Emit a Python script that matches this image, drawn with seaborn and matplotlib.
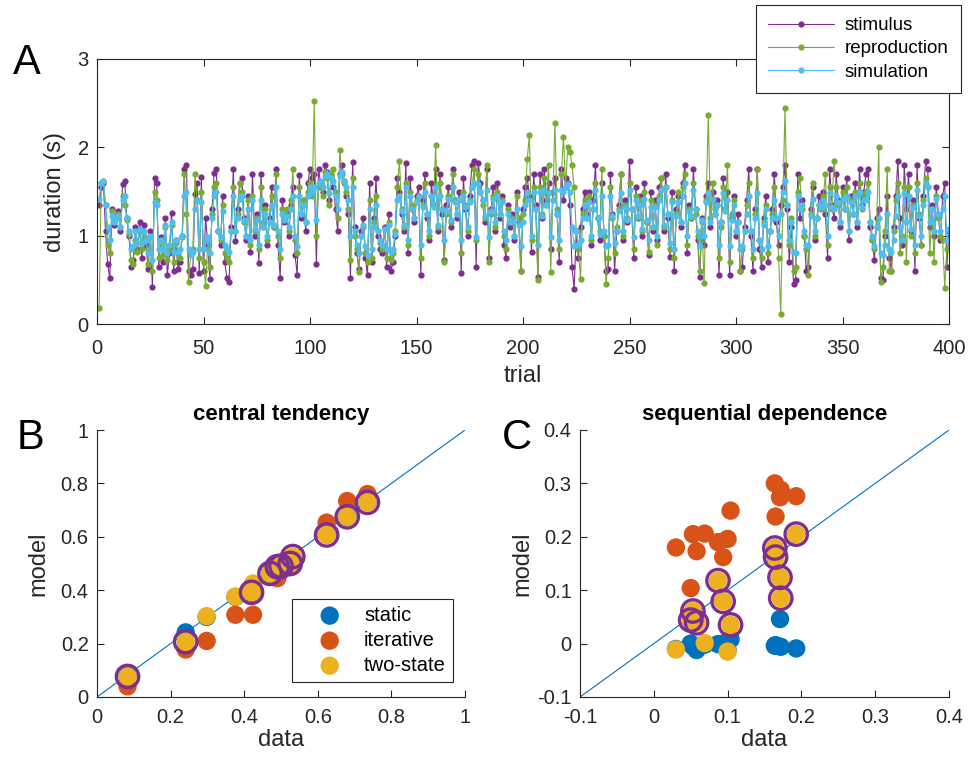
import numpy as np
import pandas as pd
import matplotlib
matplotlib.use("Agg")
import matplotlib.pyplot as plt
import seaborn as sns

# ---------------- Panel A data (duration per trial, seconds) ----------------
stimulus = [
    1.35, 1.55, 1.60, 1.05, 0.68, 0.52, 1.30, 1.12, 1.22, 1.28, 1.05, 1.58, 1.62, 1.20, 1.00, 0.65, 0.72, 1.10, 0.85, 1.15,
    0.75, 1.12, 0.90, 0.62, 1.05, 0.42, 1.65, 1.60, 0.64, 0.98, 0.70, 1.20, 0.55, 0.80, 1.26, 0.60, 0.95, 0.62, 0.70, 1.00,
    1.75, 1.80, 0.60, 0.55, 0.62, 1.47, 1.60, 0.58, 1.66, 0.60, 1.20, 0.90, 0.51, 1.30, 1.71, 1.75, 1.05, 0.90, 1.45, 0.70,
    0.52, 0.48, 1.10, 1.75, 0.94, 1.30, 1.60, 1.65, 1.20, 0.95, 1.45, 0.81, 1.70, 1.00, 1.25, 0.69, 1.70, 1.10, 1.35, 0.90,
    1.20, 1.55, 1.10, 1.76, 0.90, 0.52, 1.40, 1.15, 1.25, 1.00, 1.35, 1.55, 0.78, 0.55, 1.69, 1.20, 1.40, 1.05, 1.60, 1.75,
    1.65, 1.70, 0.68, 1.75, 1.60, 1.50, 1.80, 1.72, 1.40, 1.65, 1.55, 1.30, 1.05, 1.70, 1.80, 1.62, 1.45, 1.25, 0.52, 1.83,
    1.10, 0.80, 0.62, 1.05, 1.20, 0.75, 0.55, 1.60, 0.70, 1.20, 1.65, 1.00, 0.85, 0.80, 1.10, 0.65, 1.25, 0.60, 0.70, 1.00,
    1.65, 1.50, 1.25, 1.05, 1.82, 0.80, 1.65, 1.30, 1.15, 1.45, 1.55, 0.55, 1.40, 1.70, 1.20, 0.95, 1.60, 1.35, 1.75, 1.05,
    1.70, 1.25, 0.72, 1.35, 1.55, 1.10, 1.75, 1.40, 1.20, 1.50, 0.58, 1.65, 1.30, 1.00, 1.45, 1.80, 1.85, 0.65, 1.82, 1.60,
    1.40, 1.15, 1.75, 0.75, 1.30, 1.55, 1.05, 1.60, 1.20, 1.45, 0.90, 0.75, 1.35, 1.10, 1.25, 0.95, 1.50, 1.15, 0.60, 1.30,
    1.55, 1.65, 1.45, 0.82, 1.70, 1.35, 0.53, 1.70, 1.20, 1.75, 1.40, 1.60, 0.85, 1.50, 1.65, 1.25, 0.70, 1.75, 1.40, 1.65,
    1.60, 1.35, 0.64, 0.40, 1.05, 0.75, 1.10, 1.30, 1.50, 1.25, 1.50, 0.90, 1.40, 1.80, 1.20, 0.95, 1.60, 1.00, 0.60, 0.62,
    1.70, 1.25, 0.60, 1.05, 1.35, 1.70, 0.95, 1.40, 1.15, 1.85, 1.30, 0.75, 1.55, 1.20, 1.45, 1.00, 1.60, 1.15, 0.78, 1.50,
    1.05, 1.40, 0.95, 1.55, 1.65, 1.05, 1.70, 1.20, 0.76, 1.50, 0.60, 1.30, 1.45, 1.10, 1.60, 1.80, 0.80, 1.35, 1.20, 1.75,
    1.30, 0.95, 0.53, 1.20, 0.90, 1.45, 1.60, 1.10, 1.50, 1.25, 1.40, 0.55, 1.15, 1.65, 1.30, 1.50, 0.55, 1.20, 1.45, 1.00,
    1.25, 0.60, 0.65, 1.10, 1.40, 1.75, 1.00, 0.60, 1.30, 1.75, 0.85, 0.65, 1.20, 1.45, 0.70, 1.05, 1.30, 1.70, 1.15, 0.90,
    1.35, 1.55, 1.80, 1.30, 0.70, 1.10, 0.45, 0.50, 1.70, 1.20, 1.40, 1.00, 0.60, 0.65, 1.30, 1.55, 0.95, 1.20, 1.45, 1.35,
    1.50, 1.25, 0.75, 1.75, 1.35, 1.20, 1.70, 1.40, 1.10, 1.55, 1.30, 1.65, 0.95, 1.45, 1.25, 1.60, 1.10, 1.75, 1.35, 1.50,
    1.70, 1.75, 1.10, 0.95, 0.72, 1.20, 1.30, 0.52, 0.50, 1.00, 1.45, 0.75, 0.60, 1.10, 1.45, 1.85, 1.20, 0.90, 1.80, 1.30,
    1.70, 1.05, 1.40, 0.60, 1.80, 1.20, 0.90, 1.45, 1.85, 1.75, 1.10, 1.35, 1.00, 1.55, 1.25, 0.95, 1.45, 1.60, 0.65, 1.05,
]
reproduction = [
    0.18, 1.60, 1.62, 1.35, 0.90, 0.80, 1.28, 1.15, 1.20, 1.25, 1.10, 1.45, 1.35, 1.18, 1.02, 0.72, 0.68, 0.95, 0.82, 1.05,
    0.85, 1.00, 0.95, 0.68, 0.98, 0.60, 1.50, 1.40, 0.75, 0.90, 0.78, 1.10, 0.72, 0.85, 1.12, 0.70, 0.92, 0.80, 0.75, 0.98,
    1.70, 1.25, 0.47, 0.80, 0.85, 1.70, 1.40, 0.75, 1.50, 0.70, 0.43, 0.95, 0.65, 1.25, 1.55, 1.60, 1.05, 0.95, 1.35, 0.80,
    0.75, 0.70, 1.05, 1.55, 1.05, 1.25, 1.60, 1.50, 1.15, 1.00, 1.40, 0.90, 1.45, 1.05, 1.20, 0.85, 1.55, 1.15, 1.30, 0.95,
    1.15, 1.45, 1.10, 1.70, 1.00, 0.75, 1.30, 1.20, 1.30, 1.05, 1.40, 1.75, 0.95, 0.80, 1.55, 1.25, 1.40, 1.15, 1.50, 1.60,
    1.45, 2.52, 1.00, 1.55, 1.60, 1.45, 1.72, 1.65, 1.35, 1.70, 1.75, 1.50, 1.20, 1.97, 1.70, 1.60, 1.50, 1.30, 0.72, 1.65,
    1.00, 0.85, 0.59, 1.00, 1.10, 0.80, 0.70, 1.40, 0.75, 1.15, 1.45, 1.05, 0.92, 0.85, 1.08, 0.75, 1.15, 0.72, 0.80, 1.05,
    1.55, 1.85, 1.30, 1.10, 1.60, 0.90, 1.50, 1.35, 1.20, 1.40, 1.45, 0.75, 1.35, 1.60, 1.25, 1.00, 1.45, 1.35, 2.03, 1.10,
    1.60, 1.30, 0.70, 1.25, 1.45, 1.15, 1.70, 1.40, 1.25, 1.40, 0.80, 1.50, 1.35, 1.05, 1.40, 1.55, 1.75, 0.95, 1.70, 1.50,
    1.35, 1.20, 1.80, 0.70, 1.25, 1.45, 1.10, 1.50, 1.25, 1.40, 1.00, 0.85, 1.30, 1.15, 1.20, 1.00, 1.45, 1.20, 0.60, 1.25,
    1.40, 1.87, 2.14, 0.95, 1.55, 1.30, 0.50, 1.55, 1.25, 1.65, 1.35, 1.80, 0.59, 1.40, 2.28, 1.30, 0.85, 1.70, 2.12, 1.55,
    2.00, 1.95, 1.80, 1.55, 1.05, 0.85, 0.51, 1.25, 1.40, 1.20, 1.45, 0.95, 1.30, 1.60, 1.20, 1.05, 1.75, 1.00, 0.45, 0.75,
    1.55, 1.20, 0.80, 1.10, 1.30, 1.70, 1.00, 1.35, 1.20, 1.60, 1.30, 0.85, 1.45, 1.20, 1.40, 1.05, 1.50, 1.15, 0.82, 1.40,
    1.10, 1.35, 0.90, 1.45, 1.65, 1.10, 1.55, 1.25, 0.85, 1.40, 0.75, 1.25, 1.50, 1.15, 1.55, 1.70, 0.90, 1.30, 1.20, 1.60,
    1.25, 1.00, 0.60, 1.15, 0.46, 1.40, 2.37, 1.20, 1.60, 1.30, 1.35, 0.75, 1.10, 1.55, 1.30, 1.80, 0.70, 1.25, 1.40, 1.05,
    1.15, 0.60, 0.85, 1.05, 1.35, 1.60, 1.05, 0.75, 1.25, 1.75, 0.95, 0.75, 1.15, 1.35, 0.80, 1.05, 1.25, 1.55, 1.20, 0.75,
    0.11, 1.40, 2.44, 1.35, 0.90, 1.20, 0.60, 0.65, 1.50, 1.65, 1.30, 1.00, 0.85, 0.55, 1.25, 1.60, 1.00, 1.20, 1.35, 1.30,
    1.45, 1.70, 0.90, 1.55, 1.30, 1.85, 1.55, 1.35, 1.15, 1.50, 1.30, 1.55, 1.05, 1.40, 1.25, 1.50, 1.15, 1.60, 1.30, 1.45,
    1.50, 1.60, 1.15, 0.95, 0.85, 1.10, 2.00, 0.47, 0.65, 1.05, 1.76, 0.60, 0.60, 1.05, 1.40, 1.60, 0.80, 1.00, 1.55, 0.70,
    1.55, 1.00, 1.35, 0.80, 1.60, 1.25, 0.90, 1.40, 1.65, 1.55, 0.80, 1.30, 0.70, 1.45, 1.20, 1.00, 0.95, 0.41, 0.85, 0.85,
]
simulation = [
    1.42, 1.60, 1.62, 1.35, 1.10, 0.95, 1.22, 1.15, 1.20, 1.22, 1.10, 1.40, 1.45, 1.20, 1.05, 0.85, 0.88, 1.05, 0.92, 1.08,
    0.92, 1.05, 0.95, 0.80, 1.00, 0.72, 1.38, 1.35, 0.85, 0.95, 0.85, 1.12, 0.80, 0.90, 1.15, 0.82, 0.95, 0.82, 0.85, 1.00,
    1.45, 1.50, 0.85, 0.78, 0.82, 1.30, 1.40, 0.85, 1.38, 0.85, 0.95, 0.98, 0.80, 1.20, 1.45, 1.50, 1.05, 0.98, 1.28, 0.90,
    0.85, 0.82, 1.05, 1.45, 1.05, 1.20, 1.42, 1.45, 1.18, 1.00, 1.30, 0.95, 1.40, 1.08, 1.18, 0.90, 1.40, 1.10, 1.25, 1.00,
    1.15, 1.35, 1.12, 1.55, 1.05, 0.85, 1.25, 1.18, 1.22, 1.10, 1.30, 1.45, 1.00, 0.88, 1.45, 1.25, 1.35, 1.15, 1.45, 1.55,
    1.50, 1.55, 1.18, 1.60, 1.62, 1.55, 1.68, 1.70, 1.48, 1.65, 1.62, 1.45, 1.30, 1.68, 1.72, 1.62, 1.55, 1.40, 1.00, 1.55,
    1.05, 0.90, 0.80, 1.00, 1.12, 0.88, 0.78, 1.30, 0.85, 1.10, 1.35, 1.05, 0.95, 0.90, 1.08, 0.85, 1.12, 0.82, 0.85, 1.02,
    1.40, 1.45, 1.28, 1.12, 1.55, 0.95, 1.45, 1.30, 1.20, 1.38, 1.45, 0.90, 1.32, 1.50, 1.25, 1.05, 1.45, 1.32, 1.55, 1.12,
    1.45, 1.30, 0.95, 1.28, 1.42, 1.18, 1.55, 1.38, 1.25, 1.40, 0.95, 1.45, 1.32, 1.10, 1.38, 1.55, 1.60, 0.98, 1.58, 1.50,
    1.40, 1.22, 1.52, 0.98, 1.28, 1.42, 1.15, 1.45, 1.25, 1.38, 1.05, 0.95, 1.25, 1.15, 1.18, 1.00, 1.30, 1.12, 0.88, 1.15,
    1.35, 1.48, 1.40, 1.00, 1.50, 1.30, 0.90, 1.50, 1.22, 1.52, 1.35, 1.48, 0.98, 1.40, 1.52, 1.25, 0.95, 1.52, 1.50, 1.55,
    1.58, 1.50, 1.10, 0.88, 1.05, 0.90, 0.95, 1.20, 1.35, 1.20, 1.38, 1.00, 1.30, 1.52, 1.20, 1.02, 1.45, 1.05, 0.88, 0.90,
    1.45, 1.22, 0.92, 1.05, 1.28, 1.48, 1.05, 1.32, 1.18, 1.52, 1.30, 0.98, 1.40, 1.22, 1.35, 1.08, 1.42, 1.18, 0.95, 1.32,
    1.10, 1.32, 1.00, 1.40, 1.52, 1.12, 1.55, 1.25, 0.92, 1.38, 0.85, 1.22, 1.38, 1.15, 1.45, 1.60, 1.00, 1.28, 1.22, 1.52,
    1.30, 1.05, 0.88, 1.18, 1.00, 1.38, 1.48, 1.15, 1.42, 1.25, 1.35, 0.90, 1.15, 1.48, 1.28, 1.40, 0.88, 1.18, 1.35, 1.05,
    1.15, 0.85, 0.88, 1.05, 1.25, 1.45, 1.05, 0.85, 1.20, 1.48, 0.95, 0.85, 1.12, 1.30, 0.88, 1.05, 1.20, 1.40, 1.20, 1.00,
    1.25, 1.50, 1.62, 1.35, 0.95, 1.15, 0.82, 0.80, 1.45, 1.30, 1.35, 1.05, 0.90, 0.88, 1.22, 1.42, 1.05, 1.20, 1.35, 1.32,
    1.40, 1.35, 1.00, 1.48, 1.32, 1.30, 1.45, 1.38, 1.15, 1.42, 1.30, 1.45, 1.05, 1.38, 1.25, 1.45, 1.15, 1.50, 1.32, 1.40,
    1.40, 1.50, 1.15, 1.00, 0.88, 1.10, 1.20, 0.80, 0.78, 0.90, 1.25, 0.85, 0.82, 0.95, 1.22, 1.45, 1.10, 0.95, 1.48, 1.15,
    1.45, 1.08, 1.32, 0.90, 1.52, 1.22, 1.00, 1.35, 1.60, 1.55, 1.15, 1.30, 1.05, 1.42, 1.25, 1.05, 1.30, 1.45, 0.95, 1.08,
]

# ---------------- Panel B data (central tendency) ----------------
ct_data      = [0.083, 0.241, 0.298, 0.376, 0.424, 0.420, 0.470, 0.490, 0.500, 0.525, 0.532, 0.624, 0.680, 0.735]
ct_static    = [0.080, 0.242, 0.300, 0.375, 0.420, 0.390, 0.460, 0.450, 0.490, 0.500, 0.520, 0.610, 0.675, 0.730]
ct_iterative = [0.040, 0.178, 0.210, 0.308, 0.308, 0.400, 0.470, 0.445, 0.480, 0.490, 0.495, 0.653, 0.734, 0.760]
ct_twostate  = [0.077, 0.207, 0.303, 0.376, 0.425, 0.392, 0.463, 0.488, 0.490, 0.500, 0.526, 0.607, 0.675, 0.729]
ct_best      = [True, True, False, False, False, True, True, True, True, True, True, True, True, True]

# ---------------- Panel C data (sequential dependence) ----------------
sd_data      = [0.030, 0.050, 0.053, 0.058, 0.069, 0.087, 0.094, 0.100, 0.104, 0.164, 0.165, 0.171, 0.172, 0.193]
sd_static    = [-0.010, 0.000, -0.005, -0.012, -0.002, -0.001, 0.000, -0.012, 0.008, -0.004, -0.003, 0.046, -0.006, -0.009]
sd_iterative = [0.180, 0.104, 0.205, 0.173, 0.206, 0.190, 0.162, 0.196, 0.249, 0.300, 0.238, 0.274, 0.288, 0.276]
sd_twostate  = [-0.011, 0.044, 0.061, 0.039, 0.001, 0.118, 0.079, -0.015, 0.035, 0.179, 0.162, 0.124, 0.085, 0.205]
sd_best      = [False, True, True, True, False, True, True, False, True, True, True, True, True, True]

# ---------------- styling ----------------
PURPLE = "#7E2F8E"
GREEN = "#77AC30"
CYAN = "#4DBEEE"
BLUE = "#0072BD"
ORANGE = "#D95319"
YELLOW = "#EDB120"
DARK = "#262626"

sns.set_style("ticks")
plt.rcParams["font.family"] = ["Liberation Sans", "DejaVu Sans"]
plt.rcParams.update({
    "xtick.direction": "in", "ytick.direction": "in",
    "axes.edgecolor": DARK, "xtick.color": DARK, "ytick.color": DARK,
    "axes.labelcolor": DARK, "text.color": "black",
    "axes.linewidth": 0.8, "xtick.major.size": 5, "ytick.major.size": 5,
    "xtick.major.width": 0.8, "ytick.major.width": 0.8,
    "xtick.labelsize": 14.5, "ytick.labelsize": 14.5,
    "xtick.major.pad": 8, "ytick.major.pad": 6,
})

fig = plt.figure(figsize=(9.73, 7.62), dpi=100)

# ---------------- Panel A ----------------
axA = fig.add_axes([97 / 973, 1 - 324 / 762, 852 / 973, 265 / 762])
for name, vals, col in [("stimulus", stimulus, PURPLE),
                        ("reproduction", reproduction, GREEN),
                        ("simulation", simulation, CYAN)]:
    d = pd.DataFrame({"trial": np.arange(1, len(vals) + 1), "duration": vals})
    sns.lineplot(data=d, x="trial", y="duration", ax=axA, color=col, linewidth=0.8,
                 marker="o", markersize=4.5, markeredgewidth=0, markeredgecolor=col,
                 label=name, estimator=None, sort=False)
axA.set_xlim(0, 400)
axA.set_ylim(0, 3)
axA.set_xticks(range(0, 401, 50))
axA.set_yticks([0, 1, 2, 3])
axA.tick_params(top=True, right=True)
axA.tick_params(axis="x", pad=11)
for s in axA.spines.values():
    s.set_visible(True)
axA.set_xlabel("trial", fontsize=17, labelpad=5)
axA.set_ylabel("duration (s)", fontsize=17, labelpad=8)
leg = axA.legend(loc="upper right", bbox_to_anchor=(961 / 973, 1 - 5 / 762), bbox_transform=fig.transFigure,
                 fontsize=13.5, frameon=True, fancybox=False, framealpha=1, edgecolor=DARK,
                 handlelength=3.5, borderpad=0.65, labelspacing=0.32, handletextpad=0.6,
                 borderaxespad=0)
leg.get_frame().set_linewidth(0.8)

# ---------------- Panels B & C ----------------
def scatter_panel(ax, xd, st, it, ts, best, show_legend):
    ax.axline((0, 0), slope=1, color=BLUE, linewidth=0.8, zorder=1)
    sns.scatterplot(x=xd, y=st, ax=ax, color=BLUE, s=175, edgecolor="none", label="static", zorder=2)
    sns.scatterplot(x=xd, y=it, ax=ax, color=ORANGE, s=175, edgecolor="none", label="iterative", zorder=3)
    sns.scatterplot(x=xd, y=ts, ax=ax, color=YELLOW, s=175, edgecolor="none", label="two-state", zorder=4)
    bx = [x for x, b in zip(xd, best) if b]
    by = [y for y, b in zip(ts, best) if b]
    ax.scatter(bx, by, s=260, facecolors="none", edgecolors=PURPLE, linewidths=2.4, zorder=5)
    sns.despine(ax=ax)
    if show_legend:
        lg = ax.legend(loc="lower right", bbox_to_anchor=(0.967, 0.056), fontsize=14.5, frameon=True,
                       fancybox=False, framealpha=1, edgecolor=DARK, borderpad=0.35,
                       labelspacing=0.3, handlelength=3.0, handletextpad=0.2, borderaxespad=0)
        lg.get_frame().set_linewidth(0.8)
    else:
        if ax.get_legend() is not None:
            ax.get_legend().remove()

axB = fig.add_axes([97 / 973, 1 - 697 / 762, 368 / 973, 267 / 762])
scatter_panel(axB, ct_data, ct_static, ct_iterative, ct_twostate, ct_best, True)
axB.set_xlim(0, 1)
axB.set_ylim(0, 1)
ticksB = [0, 0.2, 0.4, 0.6, 0.8, 1]
axB.set_xticks(ticksB)
axB.set_yticks(ticksB)
axB.set_xticklabels([f"{t:g}" for t in ticksB])
axB.set_yticklabels([f"{t:g}" for t in ticksB])
axB.set_xlabel("data", fontsize=17, labelpad=1)
axB.set_ylabel("model", fontsize=17, labelpad=8)
axB.set_title("central tendency", fontsize=16, fontweight="bold", pad=7)

axC = fig.add_axes([580 / 973, 1 - 697 / 762, 369 / 973, 267 / 762])
scatter_panel(axC, sd_data, sd_static, sd_iterative, sd_twostate, sd_best, False)
axC.set_xlim(-0.1, 0.4)
axC.set_ylim(-0.1, 0.4)
ticksC = [-0.1, 0, 0.1, 0.2, 0.3, 0.4]
axC.set_xticks(ticksC)
axC.set_yticks(ticksC)
axC.set_xticklabels([f"{t:g}" for t in ticksC])
axC.set_yticklabels([f"{t:g}" for t in ticksC])
axC.set_xlabel("data", fontsize=17, labelpad=1)
axC.set_ylabel("model", fontsize=17, labelpad=3)
axC.set_title("sequential dependence", fontsize=16, fontweight="bold", pad=7)

# panel letters
fig.text(27 / 973, 1 - 63 / 762, "A", fontsize=30, ha="center", va="center")
fig.text(30 / 973, 1 - 438 / 762, "B", fontsize=30, ha="center", va="center")
fig.text(517 / 973, 1 - 438 / 762, "C", fontsize=30, ha="center", va="center")

fig.savefig("out.png", dpi=100)
